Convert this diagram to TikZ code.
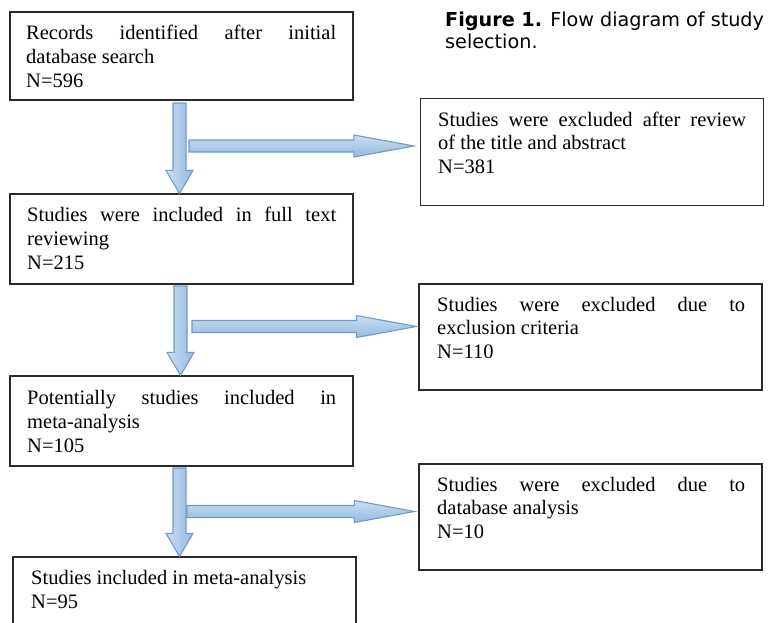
\documentclass[tikz,border=0pt]{standalone}
\usepackage{fontspec}
\setmainfont{Liberation Serif}
\newfontfamily\capfont{DejaVu Sans}
\usetikzlibrary{calc}
\definecolor{arrowline}{HTML}{6F9BCB}
\definecolor{arrowlight}{HTML}{C9DEF3}
\definecolor{arrowdark}{HTML}{94BAE0}
\definecolor{boxline}{HTML}{2B2B2B}
\newcommand\jl[2]{\makebox[#1][s]{#2}}
\newcommand\harrowshape[2]{\draw[harrowstyle] ($(#1)+(0,-6)$) -- ($(#2)+(-60,-6)$) -- ($(#2)+(-60,-11)$) -- (#2) -- ($(#2)+(-60,11)$) -- ($(#2)+(-60,6)$) -- ($(#1)+(0,6)$) -- cycle;}
\newcommand\varrowshape[2]{\draw[varrowstyle] ($(#1)+(-6.5,0)$) -- ($(#2)+(-6.5,-23)$) -- ($(#2)+(-13.5,-23)$) -- (#2) -- ($(#2)+(13.5,-23)$) -- ($(#2)+(6.5,-23)$) -- ($(#1)+(6.5,0)$) -- cycle;}
\begin{document}
\begin{tikzpicture}[x=1pt,y=-1pt,
  box/.style={draw=boxline, line width=1.2pt, inner sep=0pt, fill=none},
  txt/.style={anchor=base west, inner sep=0pt, align=left, font=\fontsize{20.5}{24}\selectfont},
  rtxt/.style={anchor=base west, inner sep=0pt, align=left, font=\fontsize{20.5}{23.5}\selectfont},
  harrowstyle/.style={draw=arrowline, line width=1.1pt, line join=miter, top color=arrowlight, bottom color=arrowdark},
  varrowstyle/.style={draw=arrowline, line width=1.1pt, line join=miter, left color=arrowlight, right color=arrowdark},
  captxt/.style={anchor=base west, inner sep=0pt, align=left, font=\capfont\fontsize{19.2}{22}\selectfont}
]
\clip (0,0) rectangle (769,622);
\fill[white] (0,0) rectangle (769,622);
% boxes
\node[box, minimum width=343pt, minimum height=88pt] (b1) at (181.5,56) {};
\node[box, minimum width=343pt, minimum height=107pt] (r1) at (592,152) {};
\node[box, minimum width=343pt, minimum height=90pt] (b2) at (181.5,239) {};
\node[box, minimum width=343pt, minimum height=106pt] (r2) at (590.5,337) {};
\node[box, minimum width=343pt, minimum height=90pt] (b3) at (181.5,421) {};
\node[box, minimum width=343pt, minimum height=106pt] (r3) at (590.5,517) {};
\node[box, minimum width=343pt, minimum height=90pt] (b4) at (184.5,602) {};
% texts (base anchor = baseline of last line)
\node[txt] (t1) at (26,87) {\jl{310pt}{Records identified after initial}\\database search\\N=596};
\node[rtxt] (tr1) at (438,173) {\jl{308pt}{Studies were excluded after review}\\of the title and abstract\\N=381};
\node[txt] (t2) at (27,269) {\jl{309pt}{Studies were included in full text}\\reviewing\\N=215};
\node[rtxt] (tr2) at (437,358) {\jl{308pt}{Studies were excluded due to}\\exclusion criteria\\N=110};
\node[txt] (t3) at (27,452) {\jl{309pt}{Potentially studies included in}\\meta-analysis\\N=105};
\node[rtxt] (tr3) at (437,538) {\jl{308pt}{Studies were excluded due to}\\database analysis\\N=10};
\node[txt] (t4) at (31,608) {Studies included in meta-analysis\\N=95};
% caption
\node[captxt] (cap) at (445,48.5) {\textbf{Figure 1.} Flow diagram of study\\selection.};
% arrows
\coordinate (v1s) at (179.5,103);
\coordinate (v1e) at (v1s |- b2.north);
\coordinate (h1s) at (189,146);
\coordinate (h1e) at ($(r1.west |- h1s)+(-6,0)$);
\coordinate (v2s) at (180.5,286);
\coordinate (v2e) at (v2s |- b3.north);
\coordinate (h2s) at (192,326.5);
\coordinate (h2e) at ($(r2.west |- h2s)+(-2,0)$);
\coordinate (v3s) at (179.5,468);
\coordinate (v3e) at (v3s |- b4.north);
\coordinate (h3s) at (187,511.5);
\coordinate (h3e) at ($(r3.west |- h3s)+(-4,0)$);
\varrowshape{v1s}{v1e}
\harrowshape{h1s}{h1e}
\varrowshape{v2s}{v2e}
\harrowshape{h2s}{h2e}
\varrowshape{v3s}{v3e}
\harrowshape{h3s}{h3e}
\end{tikzpicture}
\end{document}
